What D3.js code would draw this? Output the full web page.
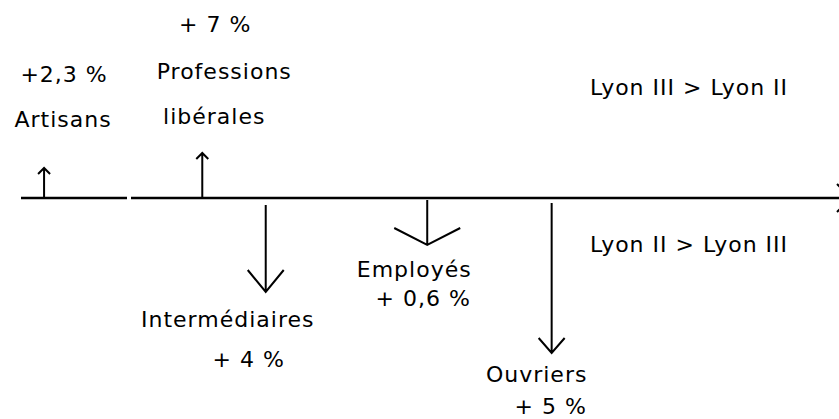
<!DOCTYPE html>
<html>
<head>
<meta charset="utf-8">
<script src="https://cdn.jsdelivr.net/npm/d3@7"></script>
<style>
    body { margin: 0; background: #fff; }
    svg text { font-family: "DejaVu Sans", Verdana, sans-serif; font-size: 22px; letter-spacing: 1px; fill: #000; }
</style>
</head>
<body>
<div id="chart"></div>
<script>
    // categories and their change between Lyon II and Lyon III
    var categories = ["Artisans", "Professions libérales", "Intermédiaires", "Employés", "Ouvriers"];
    var ecarts = ["+2,3 %", "+ 7 %", "+ 4 %", "+ 0,6 %", "+ 5 %"];
    // place of each arrow along the axis (0 - 100)
    var positions = [2.8, 22, 29.7, 49.3, 64.4];
    // drawn length of each arrow, positive = Lyon III > Lyon II
    var longueurs = [3, 4.5, -9.4, -4.7, -15.5];
    var zones = ["Lyon III > Lyon II", "Lyon II > Lyon III"];

    var width = 839,
        height = 419,
        axisY = 198;

    var svg = d3.select("#chart").append("svg")
        .attr("width", width)
        .attr("height", height);

    var x = d3.scaleLinear().domain([0, 100]).range([21, 845]);
    var y = d3.scaleLinear().domain([-10, 10]).range([axisY + 100, axisY - 100]);

    // axis, with its little gap and the arrow at the right end
    svg.append("path")
        .attr("d", "M" + x(0) + "," + axisY + "H127M131," + axisY + "H" + (x(100) + 4))
        .attr("stroke", "#000")
        .attr("stroke-width", 2.4)
        .attr("fill", "none");
    svg.append("path")
        .attr("d", "M" + (x(100) - 8) + "," + (axisY - 14) + "L" + (x(100) + 6) + "," + axisY + "L" + (x(100) - 8) + "," + (axisY + 14))
        .attr("stroke", "#000")
        .attr("stroke-width", 2)
        .attr("fill", "none");

    // look of each arrow: gap under the axis, head half width, head height
    var heads = [
        {gap: 0, hw: 6, hh: 6},
        {gap: 0, hw: 6, hh: 6},
        {gap: 7, hw: 18, hh: 22},
        {gap: 2, hw: 33, hh: 17},
        {gap: 5, hw: 13, hh: 15}
    ];

    // label boxes: [dx, dy] for the name lines and the value, from the arrow
    var labels = [
        {name: [[19, -71]], value: [20, -116]},
        {name: [[22, -119], [12, -74]], value: [13, -166]},
        {name: [[-38, 129]], value: [-17, 169]},
        {name: [[-13, 79]], value: [-4, 108]},
        {name: [[-15, 184]], value: [-1, 216]}
    ];

    var data = categories.map(function(c, i){
        return {name: c, ecart: ecarts[i], pos: positions[i], len: longueurs[i], head: heads[i], label: labels[i]};
    });

    var g = svg.selectAll("g.cat")
        .data(data)
        .enter()
        .append("g")
        .attr("class", "cat");

    g.append("path")
        .attr("d", function(d){
            var cx = x(d.pos),
                dir = d.len > 0 ? -1 : 1,
                y0 = axisY + dir * d.head.gap,
                y1 = y(d.len);
            return "M" + cx + "," + y0 + "V" + y1 +
                "M" + (cx - d.head.hw) + "," + (y1 - dir * d.head.hh) +
                "L" + cx + "," + y1 +
                "L" + (cx + d.head.hw) + "," + (y1 - dir * d.head.hh);
        })
        .attr("stroke", "#000")
        .attr("stroke-width", 2)
        .attr("fill", "none");

    g.each(function(d){
        var node = d3.select(this),
            cx = x(d.pos);
        var words = d.name == "Professions libérales" ? ["Professions", "libérales"] : [d.name];
        words.forEach(function(w, j){
            node.append("text")
                .attr("x", cx + d.label.name[j][0])
                .attr("y", axisY + d.label.name[j][1])
                .attr("text-anchor", "middle")
                .text(w);
        });
        node.append("text")
            .attr("x", cx + d.label.value[0])
            .attr("y", axisY + d.label.value[1])
            .attr("text-anchor", "middle")
            .text(d.ecart);
    });

    // the two sides of the axis
    svg.selectAll("text.zone")
        .data(zones)
        .enter()
        .append("text")
        .attr("class", "zone")
        .attr("x", 689)
        .attr("y", function(d, i){ return i == 0 ? 95 : 252; })
        .attr("text-anchor", "middle")
        .text(function(d){ return d; });
</script>
</body>
</html>
